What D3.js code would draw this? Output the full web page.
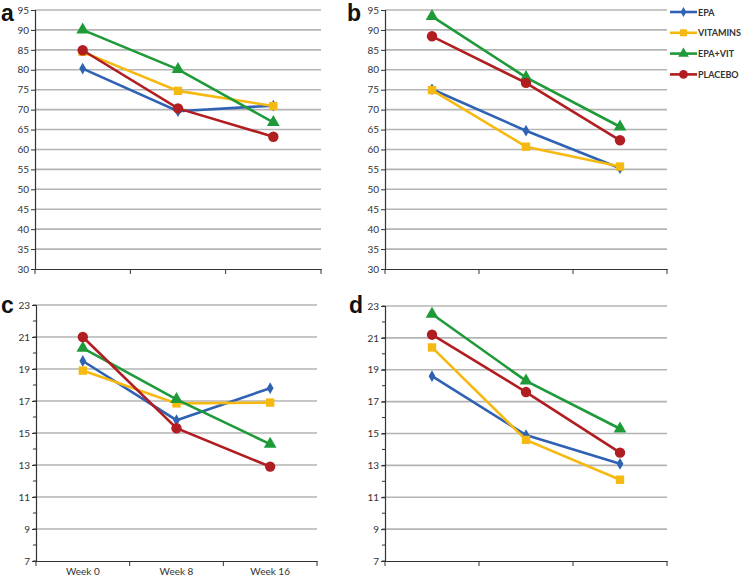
<!DOCTYPE html>
<html>
<head>
<meta charset="utf-8">
<script src="https://cdn.jsdelivr.net/npm/d3@7"></script>
<style>
  body { margin: 0; background: #fff; }
  svg { display: block; }
  .tick text { font-family: Lato, "Open Sans", sans-serif; font-size: 10px; fill: #333; }
</style>
</head>
<body>
<div id="chart"></div>
<script>
const weeks = ["Week 0", "Week 8", "Week 16"];
const seriesNames = ["EPA", "VITAMINS", "EPA+VIT", "PLACEBO"];
const colors = ["#2f62b3", "#f6b911", "#1e9a39", "#b01e22"];

// panel a
const epaA = [80.3, 69.6, 71.0];
const vitA = [84.5, 74.7, 70.9];
const bothA = [90.0, 80.1, 66.8];
const placeboA = [84.9, 70.3, 63.2];
// panel b
const epaB = [75.1, 64.7, 55.3];
const vitB = [74.9, 60.7, 55.7];
const bothB = [93.4, 78.1, 65.7];
const placeboB = [88.4, 76.7, 62.3];
// panel c
const epaC = [19.5, 15.8, 17.8];
const vitC = [18.9, 16.85, 16.9];
const bothC = [20.3, 17.1, 14.3];
const placeboC = [21.0, 15.3, 12.9];
// panel d
const epaD = [18.6, 14.9, 13.1];
const vitD = [20.4, 14.6, 12.1];
const bothD = [22.5, 18.3, 15.3];
const placeboD = [21.2, 17.6, 13.8];

const ticksTop = [30, 35, 40, 45, 50, 55, 60, 65, 70, 75, 80, 85, 90, 95];
const ticksBottom = [7, 9, 11, 13, 15, 17, 19, 21, 23];

const w = 746, h = 577;
const svg = d3.select("#chart").append("svg").attr("width", w).attr("height", h);

const panels = [
  {id: "a", data: [epaA, vitA, bothA, placeboA], x0: 35, x1: 321, y0: 269, y1: 10, dom: [30, 95], ticks: ticksTop, minor: false, labels: false, lx: 1, ly: 21},
  {id: "b", data: [epaB, vitB, bothB, placeboB], x0: 385, x1: 667, y0: 269, y1: 10, dom: [30, 95], ticks: ticksTop, minor: false, labels: false, lx: 347, ly: 21},
  {id: "c", data: [epaC, vitC, bothC, placeboC], x0: 36, x1: 317, y0: 561, y1: 305, dom: [7, 23], ticks: ticksBottom, minor: true, labels: true, lx: 1, ly: 313},
  {id: "d", data: [epaD, vitD, bothD, placeboD], x0: 385, x1: 667, y0: 561, y1: 306, dom: [7, 23], ticks: ticksBottom, minor: true, labels: false, lx: 349, ly: 313}
];

const symbols = [d3.symbolDiamond, d3.symbolSquare, d3.symbolTriangle, d3.symbolCircle];
const symSize = [40, 70, 70, 85];

panels.forEach(p => {
  const g = svg.append("g");
  const x = d3.scaleBand().domain(weeks).range([p.x0, p.x1]);
  const y = d3.scaleLinear().domain(p.dom).range([p.y0, p.y1]);

  // gridlines
  g.selectAll(".grid")
    .data(p.ticks.slice(1))
    .enter()
    .append("line")
    .attr("x1", p.x0).attr("x2", p.x1)
    .attr("y1", d => y(d)).attr("y2", d => y(d))
    .attr("stroke", "#b4b4b4")
    .attr("stroke-width", 1.6);

  // minor ticks
  if (p.minor) {
    g.selectAll(".minor")
      .data(d3.range(p.dom[0], p.dom[1] + 1))
      .enter()
      .append("line")
      .attr("x1", p.x0 - 3).attr("x2", p.x0)
      .attr("y1", d => y(d)).attr("y2", d => y(d))
      .attr("stroke", "#333");
  }

  const yAxis = d3.axisLeft(y).tickValues(p.ticks).tickSize(4).tickPadding(2);
  g.append("g")
    .attr("transform", "translate(" + p.x0 + ",0)")
    .call(yAxis)
    .call(a => a.select(".domain").attr("stroke", "#333").attr("stroke-width", 1.2))
    .call(a => a.selectAll(".tick line").attr("stroke", "#333"));

  const xAxis = d3.axisBottom(x).tickSize(0).tickPadding(7).tickFormat(p.labels ? (d => d) : "");
  g.append("g")
    .attr("transform", "translate(0," + p.y0 + ")")
    .call(xAxis)
    .call(a => a.select(".domain").attr("stroke", "#333").attr("stroke-width", 1.2));

  // band boundary ticks on x axis
  g.selectAll(".xb")
    .data(d3.range(weeks.length + 1))
    .enter()
    .append("line")
    .attr("x1", i => p.x0 + i * x.step()).attr("x2", i => p.x0 + i * x.step())
    .attr("y1", p.y0).attr("y2", p.y0 + 5)
    .attr("stroke", "#333");

  const line = d3.line()
    .x((d, i) => x(weeks[i]) + x.bandwidth() / 2)
    .y(d => y(d));

  p.data.forEach((s, k) => {
    g.append("path")
      .datum(s)
      .attr("d", line)
      .attr("fill", "none")
      .attr("stroke", colors[k])
      .attr("stroke-width", 2.6);
    g.selectAll(".m" + k)
      .data(s)
      .enter()
      .append("path")
      .attr("d", d3.symbol().type(symbols[k]).size(symSize[k]))
      .attr("transform", (d, i) => "translate(" + (x(weeks[i]) + x.bandwidth() / 2) + "," + y(d) + ")")
      .attr("fill", colors[k]);
  });

  svg.append("text")
    .attr("x", p.lx).attr("y", p.ly)
    .attr("font-family", "Liberation Sans, Arial, sans-serif")
    .attr("font-weight", "bold")
    .attr("font-size", 23)
    .attr("fill", "#111")
    .text(p.id);
});

// legend
const legend = svg.append("g").attr("transform", "translate(670,12)");
seriesNames.forEach((name, k) => {
  const row = legend.append("g").attr("transform", "translate(0," + (k * 20.8) + ")");
  row.append("line").attr("x1", 0).attr("x2", 27).attr("stroke", colors[k]).attr("stroke-width", 2.6);
  row.append("path")
    .attr("d", d3.symbol().type(symbols[k]).size(symSize[k] * 0.7))
    .attr("transform", "translate(13.5,0)")
    .attr("fill", colors[k]);
  row.append("text")
    .attr("x", 28).attr("y", 3.5)
    .attr("font-family", "Lato, 'Open Sans', sans-serif")
    .attr("font-size", 9)
    .attr("font-weight", "bold")
    .attr("fill", "#333")
    .text(name);
});
</script>
</body>
</html>
